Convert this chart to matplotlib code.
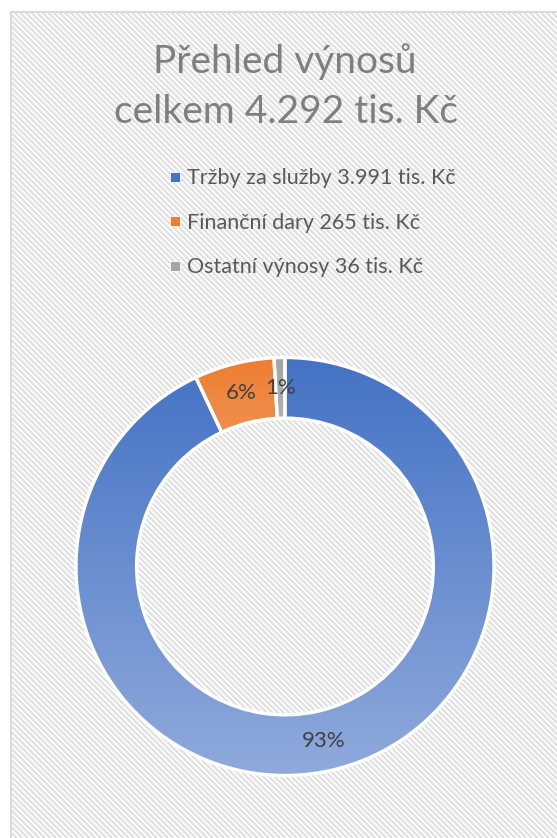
import numpy as np
import matplotlib.pyplot as plt
from matplotlib.collections import LineCollection
from matplotlib.patches import Rectangle
from matplotlib.lines import Line2D
from matplotlib.colors import LinearSegmentedColormap

# data
labels = ['Tržby za služby 3.991 tis. Kč', 'Finanční dary 265 tis. Kč', 'Ostatní výnosy 36 tis. Kč']
values = [3991, 265, 36]
title_lines = ['Přehled výnosů', 'celkem 4.292 tis. Kč']
colors_top = ['#4472C4', '#ED7D31', '#A5A5A5']
colors_bottom = ['#8FAADC', '#F4B183', '#C9C9C9']

plt.rcParams['font.family'] = ['Lato', 'DejaVu Sans']

W, H = 557, 838
fig = plt.figure(figsize=(W / 100, H / 100), dpi=100)

# background: frame with diagonal stripes (pixel coords)
bg = fig.add_axes([0, 0, 1, 1])
bg.set_xlim(0, W)
bg.set_ylim(H, 0)
bg.axis('off')
frame = Rectangle((11, 12), W, H, facecolor='white', edgecolor='#d9d9d9', lw=1.5)
bg.add_patch(frame)
xs = np.arange(-H, W, 5.6)
lc = LineCollection([[(x, 0), (x + H, H)] for x in xs], colors='#dfdfdf', linewidths=1.5)
bg.add_collection(lc)
lc.set_clip_path(frame)
# semi-transparent legend panel
bg.add_patch(Rectangle((138, 155), 337, 130, facecolor='white', edgecolor='none', alpha=0.75))

# title
fig.text(285 / W, 1 - 73 / H, title_lines[0], ha='center', va='baseline', fontsize=28, color='#7f7f7f')
fig.text(286 / W, 1 - 123 / H, title_lines[1], ha='center', va='baseline', fontsize=28, color='#7f7f7f')

# donut
R, cx, cy = 209, 285, 566.5
ax = fig.add_axes([(cx - 1.25 * R) / W, (H - cy - 1.25 * R) / H, 2.5 * R / W, 2.5 * R / H])
wedges, texts, autotexts = ax.pie(values, startangle=90, counterclock=False, radius=1,
                                  wedgeprops=dict(width=0.29, edgecolor='white', linewidth=2.4),
                                  autopct='%.0f%%', pctdistance=0.855, frame=True,
                                  textprops=dict(color='#404040', fontsize=16))

grad = np.linspace(0, 1, 256).reshape(-1, 1)
for i, w in enumerate(wedges):
    cmap = LinearSegmentedColormap.from_list('g%d' % i, [colors_top[i], colors_bottom[i]])
    if i == 0:
        y0, y1 = -1, 1
    else:
        v = w.get_path().vertices
        y0, y1 = v[:, 1].min(), v[:, 1].max()
    im = ax.imshow(grad, extent=(-1, 1, y0, y1), cmap=cmap, aspect='auto', zorder=0.5,
                   interpolation='bilinear')
    im.set_clip_path(w)
    w.set_facecolor('none')
    w.set_zorder(2)
for t in autotexts:
    t.set_zorder(4)

ax.set_xlim(-1.25, 1.25)
ax.set_ylim(-1.25, 1.25)
ax.set_aspect('equal')
ax.axis('off')

# legend
handles = [Line2D([], [], ls='none', marker='s', markersize=6.5, color=c, markeredgecolor='white',
                  markeredgewidth=0.6) for c in colors_top]
leg = fig.legend(handles, labels, loc='upper left', bbox_to_anchor=(170 / W, 1 - 168.3 / H),
                 frameon=False, fontsize=15.5, labelcolor='#595959', handlelength=0.5,
                 handletextpad=0.28, labelspacing=1.14, borderpad=0, borderaxespad=0)

fig.savefig('out.png', dpi=100)
